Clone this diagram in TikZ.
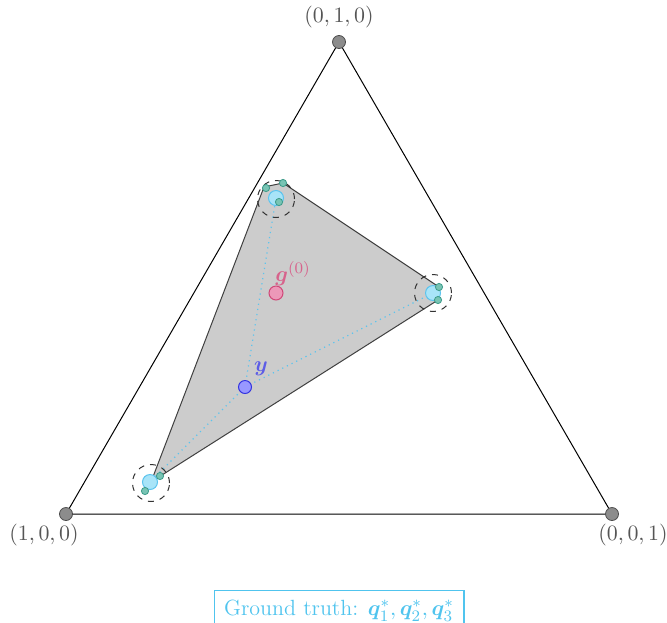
\documentclass[tikz,border=0pt]{standalone}
\usepackage{amsmath,bm}
\definecolor{vgray}{HTML}{8C8C8C}
\definecolor{lblgray}{HTML}{555555}
\definecolor{qfill}{HTML}{A8E4F8}
\definecolor{qline}{HTML}{5CC4EE}
\definecolor{gfill}{HTML}{78C4B4}
\definecolor{gline}{HTML}{3A9A88}
\definecolor{pfill}{HTML}{EC98B8}
\definecolor{pline}{HTML}{D04878}
\definecolor{yfill}{HTML}{9898FF}
\definecolor{yline}{HTML}{3434E0}
\definecolor{boxc}{HTML}{50C4EE}
\tikzset{
  vdot/.style={circle,fill=vgray,draw=black!70,line width=0.4pt,inner sep=0pt,minimum size=6.5pt},
  vlbl/.style={text=lblgray,font=\fontsize{11}{13}\selectfont},
  qdot/.style={circle,fill=qfill,draw=qline,line width=0.5pt,inner sep=0pt,minimum size=7.5pt},
  gdot/.style={circle,fill=gfill,draw=gline,line width=0.4pt,inner sep=0pt,minimum size=3.6pt},
  ring/.style={circle,draw=black!80,dashed,line width=0.5pt,inner sep=0pt,minimum size=18.5pt},
  dotln/.style={draw=qline,dotted,line width=0.6pt},
}
\begin{document}
\begin{tikzpicture}[x=0.5pt,y=-0.5pt]
\useasboundingbox (0,0) rectangle (667,622);
% polygon
\coordinate (p1) at (151,482);
\coordinate (p2) at (264,187);
\coordinate (p3) at (283,183);
\coordinate (p4) at (439,287);
\coordinate (p5) at (438,300);
\fill[black!20] (p1) -- (p2) -- (p3) -- (p4) -- (p5) -- cycle;
\draw[black!75,line width=0.5pt] (p1) -- (p2) -- (p3) -- (p4) -- (p5) -- cycle;
% simplex
\node[vdot] (A) at (66,514) {};
\node[vdot] (B) at (339,42) {};
\node[vdot] (C) at (612,514) {};
\draw[black,line width=0.5pt] (A) -- (B) -- (C) -- (A);
\node[vlbl] at (44,535) {$(1,0,0)$};
\node[vlbl] at (339,17) {$(0,1,0)$};
\node[vlbl] at (633,535) {$(0,0,1)$};
% y and dotted lines
\coordinate (yc) at (245,387);
\coordinate (q1) at (276,198);
\coordinate (q2) at (433,293);
\coordinate (q3) at (150,482);
\draw[dotln] (yc) -- (q1);
\draw[dotln] (yc) -- (q2);
\draw[dotln] (yc) -- (q3);
% rings
\node[ring] (r1) at (276,199) {};
\node[ring] (r2) at (433,293) {};
\node[ring] (r3) at (151,483) {};
% q* points
\node[qdot] (Q1) at (q1) {};
\node[qdot] (Q2) at (q2) {};
\node[qdot] (Q3) at (q3) {};
% estimates
\node[gdot] (e11) at (266,188) {};
\node[gdot] (e12) at (283,183) {};
\node[gdot] (e13) at (279,202) {};
\node[gdot] (e21) at (439,287) {};
\node[gdot] (e22) at (438,300) {};
\node[gdot] (e31) at (160,476) {};
\node[gdot] (e32) at (145,491) {};
% g0
\node[circle,fill=pfill,draw=pline,line width=0.5pt,inner sep=0pt,minimum size=7pt] (g) at (276,293) {};
\node[text=pline!85,font=\fontsize{11}{13}\selectfont] (gl) at (293,274) {$\bm{g}^{(0)}$};
% y
\node[circle,fill=yfill,draw=yline,line width=0.5pt,inner sep=0pt,minimum size=6.5pt] (y) at (yc) {};
\node[text=yline!80,font=\fontsize{11}{13}\selectfont] (yl) at (261,369) {$\bm{y}$};
% legend
\node[draw=boxc,text=boxc,line width=0.6pt,anchor=north,inner xsep=5pt,inner ysep=3pt,minimum height=20pt,font=\fontsize{11}{13}\selectfont] (leg) at (339,590) {Ground truth: $\bm{q}_1^*,\bm{q}_2^*,\bm{q}_3^*$};
\end{tikzpicture}
\end{document}
